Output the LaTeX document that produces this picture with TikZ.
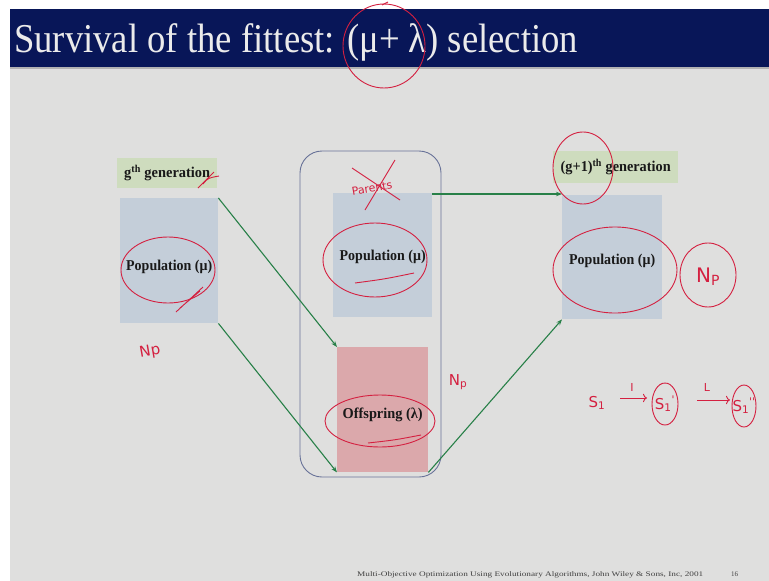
\documentclass[tikz,border=0pt]{standalone}
\usepackage{fontspec}
\setmainfont{Liberation Serif}
\newfontfamily\handfont{DejaVu Sans}
\usetikzlibrary{arrows.meta}
\definecolor{navy}{RGB}{8,22,88}
\definecolor{slidebg}{RGB}{223,223,222}
\definecolor{popblue}{RGB}{196,206,217}
\definecolor{genGreen}{RGB}{206,220,190}
\definecolor{offPink}{RGB}{219,168,171}
\definecolor{frameBlue}{RGB}{104,114,152}
\definecolor{arrowGreen}{RGB}{40,128,72}
\definecolor{inkRed}{RGB}{212,32,64}
\newcommand{\fitw}[2]{\resizebox{#1}{\height}{#2}}
\tikzset{
  box/.style={draw=none, anchor=north west, inner sep=0pt},
  boxtext/.style={font=\fontsize{15}{17}\selectfont\bfseries, text=black!90},
  flow/.style={draw=arrowGreen, line width=1.1pt, -{Stealth[length=6pt,width=4.5pt]}},
  ink/.style={draw=inkRed, line width=0.9pt},
  inktext/.style={text=inkRed, font=\handfont\fontsize{15}{15}\selectfont},
}
\begin{document}
\begin{tikzpicture}[x=1pt,y=-1pt]
\useasboundingbox (0,0) rectangle (769,581);
\fill[white] (0,0) rectangle (769,581);
\fill[slidebg] (10,9) rectangle (769,581);
\fill[navy] (10,9) rectangle (769,67);
\fill[black!30] (10,67) rectangle (769,69);
\node[anchor=base west, inner sep=0pt, text=white!92!black] (title) at (14,52)
  {\fitw{564pt}{\fontsize{41}{41}\selectfont Survival of the fittest: (μ+ λ) selection}};

% left column
\node[box, fill=genGreen, minimum width=100pt, minimum height=30pt] (glab) at (117,158) {};
\node[boxtext] at (glab.center) {\fitw{86pt}{g\textsuperscript{th} generation}};
\node[box, fill=popblue, minimum width=98pt, minimum height=125pt] (lpop) at (120,198) {};
\node[boxtext] at ([yshift=-6pt]lpop.center) {\fitw{86pt}{Population (μ)}};

% centre
\draw[frameBlue, line width=0.9pt, rounded corners=22pt] (300,151) rectangle (441,477);
\node[box, fill=popblue, minimum width=99pt, minimum height=124pt] (cpop) at (333,193) {};
\node[boxtext] at ([yshift=-2pt]cpop.center) {\fitw{86pt}{Population (μ)}};
\node[box, fill=offPink, minimum width=91pt, minimum height=125pt] (off) at (337,347) {};
\node[boxtext] at ([yshift=-5pt]off.center) {\fitw{80pt}{Offspring (λ)}};

% right column
\node[box, fill=genGreen, minimum width=125pt, minimum height=32pt] (rlab) at (553,151) {};
\node[boxtext] at (rlab.center) {\fitw{110pt}{(g+1)\textsuperscript{th} generation}};
\node[box, fill=popblue, minimum width=100pt, minimum height=124pt] (rpop) at (562,195) {};
\node[boxtext] at ([yshift=-4pt]rpop.center) {\fitw{86pt}{Population (μ)}};

% connectors
\draw[flow] (lpop.north east) -- (off.north west);
\draw[flow] (lpop.south east) -- (off.south west);
\draw[flow] ([yshift=-1pt]cpop.north east) -- ([yshift=-1pt]cpop.north east -| rpop.west);
\draw[flow] (off.south east) -- (rpop.south west);

% footer
\node[anchor=base west, inner sep=0pt, text=black!75] (foot) at (357,576)
  {\fitw{346pt}{\fontsize{7}{8}\selectfont Multi-Objective Optimization Using Evolutionary Algorithms, John Wiley \& Sons, Inc, 2001}};
\node[anchor=base west, inner sep=0pt, text=black!75, font=\fontsize{7}{8}\selectfont] (pg) at (731,576) {16};

% handwritten annotations
\draw[ink] (384,46) ellipse [x radius=41pt, y radius=42pt];
\draw[ink] (382,5) -- (388,2);
\draw[ink] (198,188) -- (214,172) (203,184) .. controls (208,178) .. (219,176);
\draw[ink] (168,270) ellipse [x radius=47pt, y radius=33pt];
\draw[ink] (176,312) -- (203,287) (180,308) -- (200,291);
\node[inktext, rotate=10] (np1) at (150,352) {Np};
\node[inktext, font=\handfont\fontsize{11}{11}\selectfont, rotate=10] (par) at (372,188) {Parents};
\draw[ink] (352,168) -- (400,200) (365,210) -- (395,160);
\draw[ink] (375,260) ellipse [x radius=52pt, y radius=37pt];
\draw[ink] (355,283) .. controls (385,279) .. (414,273);
\draw[ink] (380,421) ellipse [x radius=55pt, y radius=26pt];
\draw[ink] (368,443) .. controls (395,440) .. (421,435);
\node[inktext] (np2) at (458,382) {N\textsubscript{p}};
\draw[ink] (583,168) ellipse [x radius=30pt, y radius=36pt];
\draw[ink] (615,270) ellipse [x radius=62pt, y radius=43pt];
\draw[ink] (708,275) ellipse [x radius=28pt, y radius=32pt];
\node[inktext, font=\handfont\fontsize{20}{20}\selectfont] (np3) at (708,277) {N\textsubscript{P}};
\node[inktext, anchor=west] (s1) at (585,403) {S\textsubscript{1}};
\node[inktext, font=\handfont\fontsize{11}{11}\selectfont] (lblI) at (632,387) {I};
\draw[ink, -{To[length=4pt]}] (620,398) -- (647,398);
\draw[ink] (665,404) ellipse [x radius=13pt, y radius=21pt];
\node[inktext] (s1p) at (665,404) {S\textsubscript{1}\textsuperscript{'}};
\node[inktext, font=\handfont\fontsize{11}{11}\selectfont] (lblL) at (707,387) {L};
\draw[ink, -{To[length=4pt]}] (697,400) -- (730,400);
\draw[ink] (744,406) ellipse [x radius=12pt, y radius=21pt];
\node[inktext] (s1pp) at (744,406) {S\textsubscript{1}\textsuperscript{''}};
\end{tikzpicture}
\end{document}
